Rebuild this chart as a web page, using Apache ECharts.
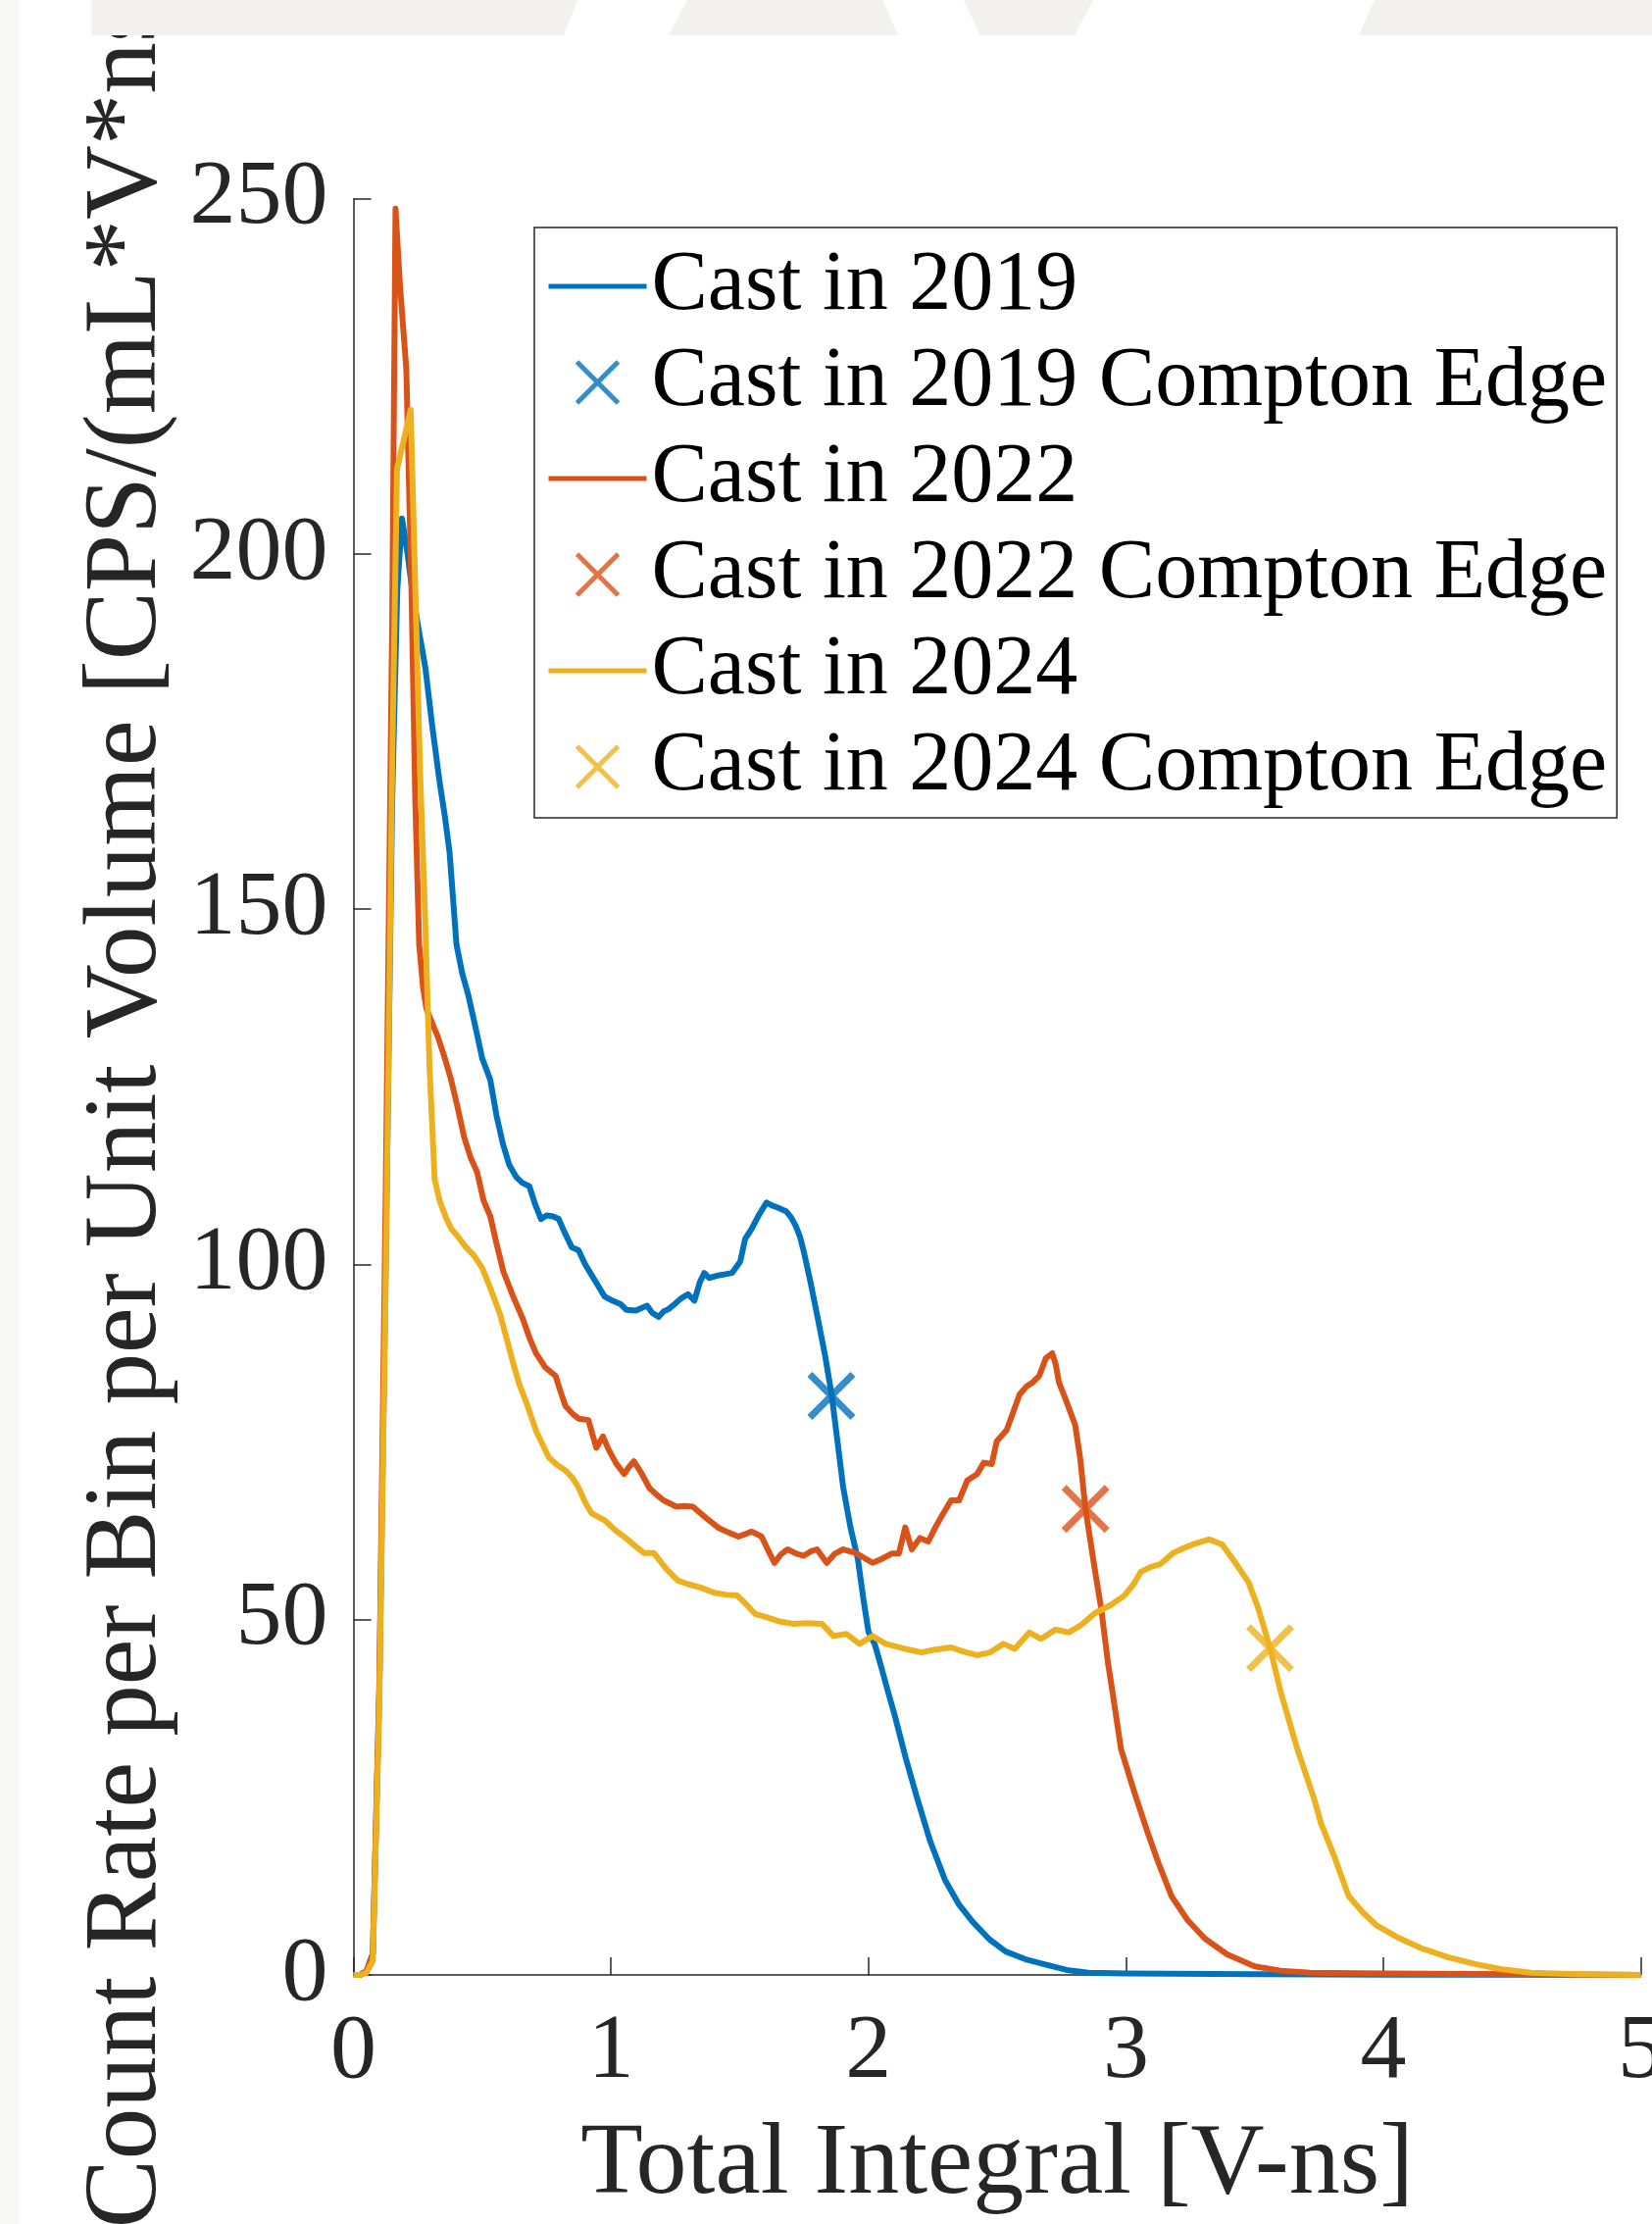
<!DOCTYPE html>
<html>
<head>
<meta charset="utf-8">
<script src="https://cdn.jsdelivr.net/npm/echarts@6/dist/echarts.min.js"></script>
<style>
  html, body { margin: 0; padding: 0; background: #ffffff; }
  #chart { width: 1685px; height: 2268px; }
</style>
</head>
<body>
<div id="chart"></div>
<script>
// Pulse-integral spectra, [total integral (V-ns), count rate per bin per unit volume]
const spectrum2019 = [
  [0,0],[0.025,0],[0.05,0.5],[0.075,3],[0.1,40],[0.125,100],[0.15,165],[0.17,195],[0.188,205],
  [0.21,200],[0.224,196],[0.25,190],[0.279,184],[0.305,176],[0.334,168],[0.355,163],[0.373,158],
  [0.4,145],[0.422,141],[0.445,138],[0.47,134],[0.5,129],[0.531,126],[0.555,121],[0.58,117],
  [0.605,114],[0.632,112.3],[0.655,111.5],[0.683,111],[0.705,108.5],[0.728,106.4],[0.75,106.9],
  [0.772,106.8],[0.797,106.4],[0.82,104.5],[0.848,102.4],[0.874,102],[0.9,100],[0.925,98.5],
  [0.95,97],[0.975,95.5],[1.0,95],[1.038,94.4],[1.06,93.6],[1.096,93.5],[1.12,93.9],[1.14,94.2],
  [1.16,93.2],[1.185,92.6],[1.205,93.4],[1.223,93.7],[1.25,94.5],[1.275,95.3],[1.299,95.8],
  [1.324,94.9],[1.345,97.5],[1.362,98.8],[1.381,98.1],[1.41,98.4],[1.44,98.6],[1.47,98.8],
  [1.502,100.4],[1.521,103.6],[1.546,105],[1.575,107],[1.604,108.7],[1.625,108.3],[1.648,108],
  [1.68,107.5],[1.7,106.6],[1.718,105.4],[1.735,103.8],[1.749,101.8],[1.775,97.5],[1.8,93],
  [1.83,87.5],[1.857,81.7],[1.88,75],[1.902,68.6],[1.93,63],[1.959,58.5],[1.98,53],[2.0,48.3],
  [2.025,46.5],[2.05,43.3],[2.075,40],[2.103,36.4],[2.145,30.5],[2.189,24.9],[2.24,18.8],
  [2.297,13.4],[2.35,10],[2.404,7.5],[2.47,5],[2.533,3.3],[2.61,2.2],[2.683,1.5],[2.77,0.7],
  [2.854,0.3],[3.0,0.2],[3.5,0.1],[4.0,0.05],[4.5,0.02],[5.0,0]
];
const spectrum2022 = [
  [0,0],[0.025,0],[0.05,0.5],[0.075,3],[0.1,40],[0.125,110],[0.15,190],[0.163,248.6],[0.18,238],
  [0.205,226],[0.225,195],[0.24,165],[0.255,145],[0.27,139],[0.283,136],[0.305,134],[0.328,132],
  [0.355,129],[0.379,126],[0.405,122],[0.429,118],[0.455,115],[0.48,113],[0.505,109],[0.531,106.8],
  [0.555,103],[0.582,99],[0.62,95.5],[0.658,92.3],[0.685,89.5],[0.709,87.5],[0.745,85.5],[0.785,84.3],
  [0.805,82],[0.823,80.1],[0.85,79],[0.874,78.3],[0.912,78.1],[0.943,74.2],[0.969,75.8],[0.99,74],
  [1.02,72],[1.051,70.5],[1.07,71.5],[1.089,72.3],[1.12,70.5],[1.15,68.5],[1.18,67.5],[1.204,66.8],
  [1.254,65.9],[1.285,66],[1.318,65.9],[1.37,64.3],[1.419,62.9],[1.455,62.3],[1.495,61.7],
  [1.547,62.4],[1.585,61.7],[1.61,59.8],[1.635,58],[1.66,59.2],[1.686,59.9],[1.72,59.3],[1.749,59],
  [1.775,59.6],[1.8,59.9],[1.838,58],[1.87,59.3],[1.902,59.9],[1.95,59.4],[2.016,58],[2.054,58.6],
  [2.09,59.3],[2.118,59.3],[2.143,63],[2.168,59.9],[2.2,61.5],[2.232,61],[2.26,63],[2.283,64.5],
  [2.321,66.8],[2.352,66.8],[2.384,69.6],[2.422,70.5],[2.448,72.1],[2.479,71.9],[2.498,75.1],
  [2.537,76.7],[2.565,79.5],[2.587,81.7],[2.613,82.8],[2.638,83.4],[2.663,84.3],[2.689,86.8],
  [2.714,87.5],[2.727,86],[2.74,83.4],[2.765,81.1],[2.803,77.4],[2.822,72.8],[2.843,65.6],
  [2.879,57.1],[2.904,51.6],[2.93,44],[2.943,41],[2.981,31.8],[3.032,25.8],[3.082,20.3],
  [3.127,15.7],[3.177,11.1],[3.24,7.7],[3.307,5.1],[3.393,2.9],[3.5,1.2],[3.6,0.6],[3.714,0.3],
  [4.0,0.2],[4.5,0.1],[5.0,0]
];
const spectrum2024 = [
  [0,0],[0.025,0],[0.05,0.3],[0.075,2],[0.1,38],[0.125,98],[0.15,170],[0.169,212],[0.195,216],
  [0.222,220.3],[0.24,195],[0.258,170],[0.277,150],[0.295,128],[0.315,112],[0.334,109],[0.36,106.5],
  [0.38,105],[0.404,104],[0.435,102.5],[0.467,101.3],[0.5,99.5],[0.531,96.7],[0.569,93],[0.595,89.5],
  [0.62,86.1],[0.645,83],[0.671,80.6],[0.71,76.5],[0.759,72.8],[0.79,71.8],[0.823,71],[0.85,70],
  [0.874,68.6],[0.9,66.5],[0.924,65],[0.975,64],[1.02,62.5],[1.064,61.3],[1.1,60.2],[1.128,59.4],
  [1.166,59.4],[1.216,57.1],[1.26,55.5],[1.3,55],[1.35,54.5],[1.4,53.8],[1.45,53.5],[1.49,53.4],
  [1.53,52],[1.56,50.8],[1.6,50.4],[1.65,49.8],[1.71,49.4],[1.76,49.5],[1.82,49.4],[1.864,47.7],
  [1.914,48],[1.965,46.6],[2.016,47.7],[2.067,46.6],[2.13,46],[2.206,45.4],[2.26,45.8],[2.321,46.1],
  [2.37,45.5],[2.422,45],[2.473,45.4],[2.524,46.6],[2.568,45.9],[2.625,48.2],[2.67,47.3],
  [2.727,48.6],[2.778,48.2],[2.828,49.3],[2.879,50.9],[2.943,52.1],[2.994,53.4],[3.03,55],
  [3.057,56.7],[3.095,57.4],[3.133,57.8],[3.184,59.4],[3.22,60],[3.26,60.6],[3.323,61.3],
  [3.374,60.6],[3.425,58],[3.476,55.3],[3.514,51.6],[3.56,46],[3.603,39.6],[3.666,31.8],
  [3.73,24.9],[3.758,21.3],[3.806,17],[3.865,11.1],[3.92,8.8],[3.973,7],[4.06,5.2],[4.145,3.8],
  [4.25,2.5],[4.359,1.5],[4.46,0.8],[4.574,0.3],[4.75,0.1],[5.0,0]
];
// Compton edge positions [integral, rate]
const comptonEdge2019 = [[1.856, 81.5]];
const comptonEdge2022 = [[2.843, 65.6]];
const comptonEdge2024 = [[3.56, 46]];

const seriesNames = ['Cast in 2019', 'Cast in 2022', 'Cast in 2024'];
const edgeSuffix = ' Compton Edge';
const seriesColors = ['#0072BD', '#D95319', '#EDB120'];
const xTicks = { min: 0, max: 5, step: 1 };
const yTicks = { min: 0, max: 250, step: 50 };

const serifFont = '"Liberation Serif", "Times New Roman", serif';
const axisInk = '#262626';
const crossPath = 'path://M0,0L44,44M44,0L0,44';

const spectra = [spectrum2019, spectrum2022, spectrum2024];
const edges = [comptonEdge2019, comptonEdge2022, comptonEdge2024];

const series = [];
const legendData = [];
seriesNames.forEach((name, i) => {
  series.push({
    name: name,
    type: 'line',
    data: spectra[i],
    showSymbol: false,
    symbol: 'none',
    smooth: false,
    lineStyle: { color: seriesColors[i], width: 6, join: 'round' },
    itemStyle: { color: seriesColors[i] },
    z: 2 + i,
    silent: true
  });
  series.push({
    name: name + edgeSuffix,
    type: 'scatter',
    data: edges[i],
    symbol: crossPath,
    symbolSize: 44,
    symbolKeepAspect: true,
    itemStyle: { color: seriesColors[i], borderColor: seriesColors[i], borderWidth: 7 },
    z: 10,
    silent: true
  });
  // plain line sample for the curve entries, no dot in the middle
  legendData.push({ name: name, itemStyle: { opacity: 0 }, lineStyle: { width: 5 } });
  legendData.push({
    name: name + edgeSuffix,
    icon: crossPath,
    itemStyle: { color: seriesColors[i], borderColor: seriesColors[i], borderWidth: 5 }
  });
});

// faint background band across the top edge
const bandColor = '#f2f1ef';
const graphics = [
  { type: 'polygon', shape: { points: [[93,0],[589,0],[575,36],[93,36]] } },
  { type: 'polygon', shape: { points: [[701,0],[900,0],[916,36],[682,36]] } },
  { type: 'polygon', shape: { points: [[983,0],[1115,0],[1096,36],[1000,36]] } },
  { type: 'polygon', shape: { points: [[1402,0],[1685,0],[1685,36],[1386,36]] } },
  { type: 'rect', shape: { x: 0, y: 0, width: 20, height: 2268 }, style: { fill: '#f8f8f6' } }
].map(g => Object.assign({ z: 100, silent: true }, g, { style: Object.assign({ fill: bandColor }, g.style || {}) }));

const chart = echarts.init(document.getElementById('chart'), null, { renderer: 'canvas' });
chart.setOption({
  animation: false,
  backgroundColor: '#ffffff',
  grid: {
    left: 360.6, right: 11.4, top: 202.7, bottom: 254,
    containLabel: false,
    outerBoundsMode: 'none'
  },
  xAxis: {
    type: 'value',
    min: xTicks.min, max: xTicks.max, interval: xTicks.step,
    name: 'Total Integral [V-ns]',
    nameLocation: 'middle',
    nameGap: 143,
    nameTextStyle: { fontFamily: serifFont, fontSize: 104, color: axisInk },
    axisLine: { show: true, onZero: false, lineStyle: { color: axisInk, width: 1.5 } },
    axisTick: { show: true, inside: true, length: 18, lineStyle: { color: axisInk, width: 1.5 } },
    axisLabel: { fontFamily: serifFont, fontSize: 94, color: axisInk, margin: 32, showMaxLabel: true, showMinLabel: true },
    splitLine: { show: false }
  },
  yAxis: {
    type: 'value',
    min: yTicks.min, max: yTicks.max, interval: yTicks.step,
    name: 'Count Rate per Bin per Unit Volume [CPS/(mL*V*ns)]',
    nameLocation: 'middle',
    nameGap: 178,
    nameTextStyle: { fontFamily: serifFont, fontSize: 105, color: axisInk, padding: [0, 0, 0, 12] },
    axisLine: { show: true, lineStyle: { color: axisInk, width: 1.5 } },
    axisTick: { show: true, inside: true, length: 18, lineStyle: { color: axisInk, width: 1.5 } },
    axisLabel: { fontFamily: serifFont, fontSize: 94, color: axisInk, margin: 26 },
    splitLine: { show: false }
  },
  legend: {
    orient: 'vertical',
    left: 545,
    top: 232,
    padding: [11, 10, 3, 12],
    itemGap: 0,
    itemWidth: 100,
    itemHeight: 42,
    borderColor: axisInk,
    borderWidth: 1.5,
    backgroundColor: '#ffffff',
    selectedMode: false,
    textStyle: { fontFamily: serifFont, fontSize: 86, color: '#000000', lineHeight: 98 },
    data: legendData
  },
  graphic: graphics,
  series: series
});
</script>
</body>
</html>
